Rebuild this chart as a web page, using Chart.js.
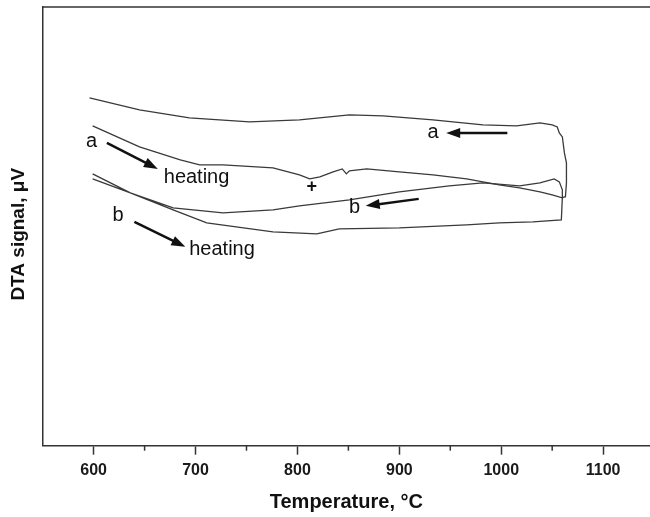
<!DOCTYPE html>
<html>
<head>
<meta charset="utf-8">
<script src="https://cdn.jsdelivr.net/npm/chart.js@4.4.0/dist/chart.umd.min.js"></script>
<style>
  html, body { margin: 0; padding: 0; background: #fff; overflow: hidden; }
  #wrap { width: 650px; height: 517px; position: relative; }
</style>
</head>
<body>
<div id="wrap"><canvas id="chart"></canvas></div>
<script>
// temperatures in °C, DTA signal in arbitrary units (no scale shown on the plot)
// run a: heating, then cooling back from ~1064 °C
const aHeatT = [599, 645, 685, 704, 727, 776, 802, 812, 822, 835, 844, 848, 851, 868, 900, 933, 966, 998, 1018, 1038, 1050, 1060, 1062];
const aHeatS = [320, 299, 286, 281, 281, 278, 271, 267, 269, 274, 277, 272, 275, 277, 274, 271, 267, 261, 258, 254, 251, 248, 249];
const aCoolT = [1063, 1064, 1064, 1062, 1060, 1057, 1055, 1050, 1038, 1015, 982, 933, 884, 851, 802, 753, 694, 645, 596];
const aCoolS = [249, 263, 283, 293, 309, 313, 319, 321, 323, 320, 321, 326, 330, 331, 326, 324, 328, 336, 348];

// run b
const bHeatT = [599, 636, 678, 711, 776, 819, 841, 900, 966, 998, 1031, 1059];
const bHeatS = [272, 253, 236, 223, 214, 212, 217, 218, 221, 223, 224, 226];
const bCoolT = [1060, 1060, 1057, 1052, 1038, 1018, 982, 949, 900, 851, 802, 776, 727, 678, 636, 599];
const bCoolS = [249, 256, 264, 267, 263, 260, 263, 260, 254, 246, 240, 236, 233, 238, 253, 267];

const xTicks = [600, 700, 800, 900, 1000, 1100];
const xMinorTicks = [650, 750, 850, 950, 1050, 1150];

// text notes and arrows placed in data units
const notes = [
  { text: 'a', t: 598, s: 304 },
  { text: 'heating', t: 701, s: 268 },
  { text: 'b', t: 624, s: 230 },
  { text: 'heating', t: 726, s: 196 },
  { text: 'a', t: 933, s: 313 },
  { text: 'b', t: 856, s: 238 }
];
const marks = [
  { text: '+', t: 814, s: 259 }
];
const arrows = [
  { from: [613, 303], to: [663, 277] },
  { from: [640, 224], to: [690, 199] },
  { from: [1006, 313], to: [946, 313] },
  { from: [919, 247], to: [867, 240] }
];

const zip = (ts, ss) => ts.map((t, i) => ({ x: t, y: ss[i] }));

const FONT = '"Liberation Sans", Arial, Helvetica, sans-serif';

const decorations = {
  id: 'decorations',
  afterDraw(chart) {
    const { ctx, chartArea, scales: { x, y } } = chart;
    ctx.save();
    ctx.strokeStyle = '#333';
    ctx.lineWidth = 1.5;
    // top frame
    ctx.beginPath();
    ctx.moveTo(chartArea.left, chartArea.top);
    ctx.lineTo(chartArea.right, chartArea.top);
    ctx.stroke();
    // minor ticks
    xMinorTicks.forEach(v => {
      if (v > x.max) return;
      const px = x.getPixelForValue(v);
      ctx.beginPath();
      ctx.moveTo(px, chartArea.bottom);
      ctx.lineTo(px, chartArea.bottom + 5);
      ctx.stroke();
    });
    // notes
    ctx.fillStyle = '#111';
    ctx.textAlign = 'center';
    ctx.textBaseline = 'middle';
    ctx.font = '20px ' + FONT;
    notes.forEach(n => ctx.fillText(n.text, x.getPixelForValue(n.t), y.getPixelForValue(n.s)));
    ctx.font = 'bold 18px ' + FONT;
    marks.forEach(n => ctx.fillText(n.text, x.getPixelForValue(n.t), y.getPixelForValue(n.s)));
    // arrows
    ctx.strokeStyle = '#111';
    ctx.lineWidth = 2.5;
    arrows.forEach(a => {
      const x1 = x.getPixelForValue(a.from[0]), y1 = y.getPixelForValue(a.from[1]);
      const x2 = x.getPixelForValue(a.to[0]), y2 = y.getPixelForValue(a.to[1]);
      const ang = Math.atan2(y2 - y1, x2 - x1);
      const hl = 14, hw = 5;
      const c = Math.cos(ang), s = Math.sin(ang);
      ctx.beginPath();
      ctx.moveTo(x1, y1);
      ctx.lineTo(x2 - c * hl * 0.8, y2 - s * hl * 0.8);
      ctx.stroke();
      ctx.beginPath();
      ctx.moveTo(x2, y2);
      ctx.lineTo(x2 - c * hl - s * hw, y2 - s * hl + c * hw);
      ctx.lineTo(x2 - c * hl + s * hw, y2 - s * hl - c * hw);
      ctx.closePath();
      ctx.fill();
    });
    ctx.restore();
  }
};

const lineStyle = {
  showLine: true,
  pointRadius: 0,
  borderColor: '#3a3a3a',
  borderWidth: 1.3,
  tension: 0,
  fill: false
};

new Chart(document.getElementById('chart'), {
  type: 'scatter',
  data: {
    datasets: [
      { label: 'a', data: zip(aHeatT, aHeatS).concat(zip(aCoolT, aCoolS)), ...lineStyle },
      { label: 'b', data: zip(bHeatT, bHeatS).concat(zip(bCoolT, bCoolS)), ...lineStyle }
    ]
  },
  options: {
    responsive: true,
    maintainAspectRatio: false,
    animation: false,
    layout: { padding: { top: 7, right: 0, left: 0, bottom: 0 } },
    plugins: {
      legend: { display: false },
      tooltip: { enabled: false }
    },
    scales: {
      x: {
        type: 'linear',
        min: 550,
        max: 1146,
        afterBuildTicks: (scale) => { scale.ticks = xTicks.map(v => ({ value: v })); },
        afterFit: (scale) => { scale.height = 71.3; },
        grid: { drawOnChartArea: false, drawTicks: true, tickLength: 9, tickColor: '#333', tickWidth: 1.5 },
        border: { display: true, color: '#333', width: 1.5 },
        ticks: {
          color: '#1a1a1a',
          padding: 6,
          maxRotation: 0,
          callback: (v) => String(v),
          font: { family: FONT, size: 16, weight: 'bold' }
        },
        title: {
          display: true,
          text: 'Temperature, °C',
          color: '#111',
          padding: { top: 0, bottom: 3 },
          font: { family: FONT, size: 20, weight: 'bold' }
        }
      },
      y: {
        type: 'linear',
        min: 0,
        max: 439,
        afterFit: (scale) => { scale.width = 42.7; },
        grid: { drawOnChartArea: false, drawTicks: false },
        border: { display: true, color: '#333', width: 1.5 },
        ticks: { display: false },
        title: {
          display: true,
          text: 'DTA signal, μV   ',
          color: '#111',
          padding: { top: 7, bottom: 0 },
          font: { family: FONT, size: 19, weight: 'bold' }
        }
      }
    }
  },
  plugins: [decorations]
});
</script>
</body>
</html>
